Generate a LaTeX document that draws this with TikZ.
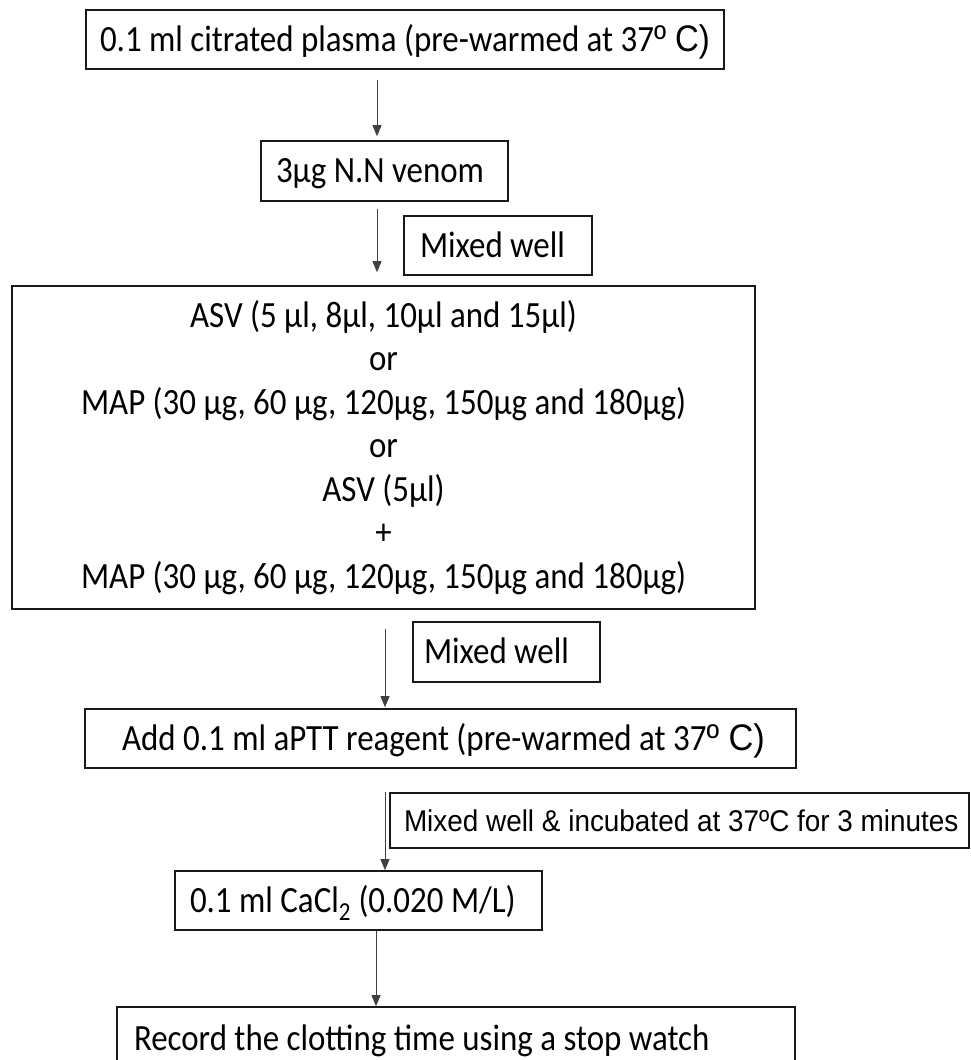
\documentclass[tikz,border=0pt]{standalone}
\usepackage{fontspec}
\setmainfont{Carlito}[FakeStretch=0.89]
\newfontfamily\arialf{Liberation Sans}[FakeStretch=0.89]
\newfontfamily\arialw{Liberation Sans}[FakeStretch=0.93]
\usetikzlibrary{arrows.meta}
\newcommand{\leftin}[3]{\makebox[#1pt][l]{\hspace*{#2pt}#3}}
\begin{document}
\begin{tikzpicture}[x=1pt,y=-1pt,
  box/.style={draw=black!90, line width=1.6pt, inner sep=0pt,
    font=\fontsize{37}{44}\selectfont, text height=27.4pt, text depth=4pt},
  arr/.style={draw=black!75, line width=0.9pt, -{Triangle[length=11pt,width=9pt]}},
]
\useasboundingbox (0,0) rectangle (971,1060);
\clip (0,0) rectangle (971,1060);

\node[box, minimum width=638pt, minimum height=59pt] (b1) at (405,39.5)
  {0.1 ml citrated plasma (pre-warmed at 37{\arialf º C)}};
\node[box, minimum height=60pt] (b2) at (384.5,171)
  {\leftin{247}{15}{3µg N.N venom}};
\node[box, minimum height=59pt] (m1) at (498,245.5)
  {\leftin{188}{16}{Mixed well}};
\node[box, minimum width=743pt, minimum height=323pt, align=center,
  font=\fontsize{37}{43.5}\selectfont, text height=, text depth=] (big) at (383.5,447.5)
  {ASV (5 µl, 8µl, 10µl and 15µl)\\ or\\ MAP (30 µg, 60 µg, 120µg, 150µg and 180µg)\\ or\\
   ASV (5µl)\\ +\\ MAP (30 µg, 60 µg, 120µg, 150µg and 180µg)};
\node[box, minimum height=60pt] (m2) at (506.5,652)
  {\leftin{187}{11}{Mixed well}};
\node[box, minimum width=711pt, minimum height=59pt] (add) at (440.5,738.5)
  {\hspace*{6pt}Add 0.1 ml aPTT reagent (pre-warmed at 37{\arialw º C)}};
\node[box, minimum height=55pt,
  font=\arialw\fontsize{30}{36}\selectfont, text height=21.5pt, text depth=0pt] (inc) at (679.5,820.5)
  {\leftin{579}{14}{Mixed well \& incubated at 37ºC for 3 minutes}};
\node[box, minimum height=59pt] (ca) at (358.5,900.5)
  {\leftin{367}{15}{0.1 ml CaCl\textsubscript{2} (0.020 M/L)}};
\node[box, minimum height=63pt] (rec) at (456,1038.5)
  {\leftin{678}{17}{Record the clotting time using a stop watch}};

\coordinate (x1) at (377,0);
\coordinate (x3) at (385,0);
\coordinate (x5) at (376,0);
\draw[arr] ([yshift=-10pt]b1.south -| x1) -- ([yshift=4pt]b2.north -| x1);
\draw[arr] ([yshift=-7pt]b2.south -| x1) -- ([yshift=13pt]big.north -| x1);
\draw[arr] ([yshift=-19pt]big.south -| x3) -- ([yshift=1pt]add.north -| x3);
\draw[arr] ([yshift=-23pt]add.south -| x3) -- (ca.north -| x3);
\draw[arr] (ca.south -| x5) -- (rec.north -| x5);
\end{tikzpicture}
\end{document}
